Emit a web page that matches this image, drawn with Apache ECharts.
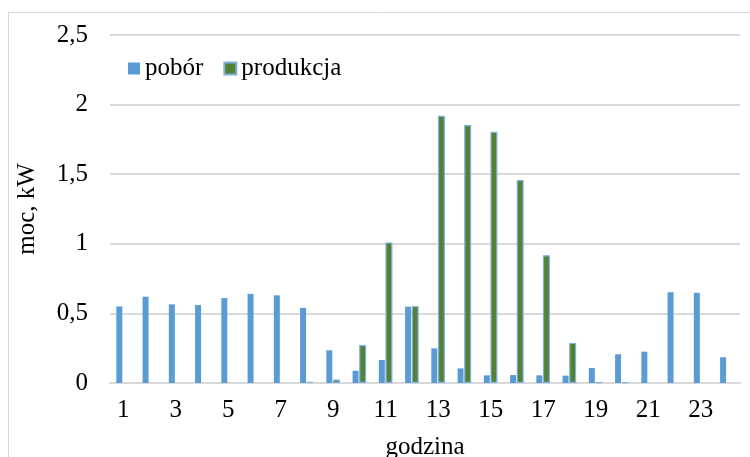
<!DOCTYPE html>
<html>
<head>
<meta charset="utf-8">
<script src="https://cdn.jsdelivr.net/npm/echarts@6/dist/echarts.min.js"></script>
<style>
html,body{margin:0;padding:0;background:#fff;}
#chart{width:750px;height:457px;}
</style>
</head>
<body>
<div id="chart"></div>
<script>
var hours = ['1','2','3','4','5','6','7','8','9','10','11','12','13','14','15','16','17','18','19','20','21','22','23','24'];
var pobor = [0.55,0.62,0.565,0.56,0.61,0.64,0.63,0.54,0.235,0.088,0.165,0.548,0.249,0.105,0.055,0.057,0.055,0.053,0.108,0.206,0.225,0.652,0.648,0.185];
var produkcja = [0,0,0,0,0,0,0,0.008,0.025,0.273,1.01,0.553,1.92,1.853,1.805,1.458,0.917,0.288,0.006,0.004,0,0,0,0];
var yTicks = [0,0.5,1,1.5,2,2.5];

var FONT = "'Liberation Serif','Times New Roman',serif";
var chart = echarts.init(document.getElementById('chart'), null, {renderer:'canvas'});
chart.setOption({
  animation:false,
  backgroundColor:'#fff',
  graphic:[{type:'rect',shape:{x:8.5,y:12.5,width:800,height:600},style:{fill:'none',stroke:'#d9d9d9',lineWidth:1}}],
  grid:{left:110,right:10,top:35,bottom:74,containLabel:false,outerBoundsMode:'none'},
  legend:{
    left:123, top:51, itemWidth:12, itemHeight:12, itemGap:20,
    textStyle:{fontFamily:FONT,fontSize:25,color:'#000'},
    data:[{name:'pobór',icon:'rect'},{name:'produkcja',icon:'rect'}]
  },
  xAxis:{
    type:'category', data:hours,
    name:'godzina', nameLocation:'middle', nameGap:52,
    nameTextStyle:{fontFamily:FONT,fontSize:25,color:'#000'},
    axisLine:{lineStyle:{color:'#d9d9d9',width:2}},
    axisTick:{show:false},
    axisLabel:{interval:1,fontFamily:FONT,fontSize:25,color:'#000',margin:15}
  },
  yAxis:{
    type:'value', min:yTicks[0], max:yTicks[yTicks.length-1], interval:0.5,
    name:'moc, kW', nameLocation:'middle', nameGap:70, nameRotate:90,
    nameTextStyle:{fontFamily:FONT,fontSize:25,color:'#000'},
    axisLine:{show:false}, axisTick:{show:false},
    splitLine:{lineStyle:{color:'#d9d9d9',width:2}},
    axisLabel:{fontFamily:FONT,fontSize:25,color:'#000',margin:22,
      formatter:function(v){return String(v).replace('.',',');}}
  },
  series:[
    {name:'pobór',type:'bar',data:pobor,barWidth:6,barGap:'10%',
     itemStyle:{color:'#5b9bd5'}},
    {name:'produkcja',type:'bar',
     data:produkcja.map(function(v){return v===0?'-':v;}),barWidth:7,barGap:'10%',
     itemStyle:{color:'#548235',borderColor:'#7fb0e0',borderWidth:1.2}}
  ]
});
</script>
</body>
</html>
